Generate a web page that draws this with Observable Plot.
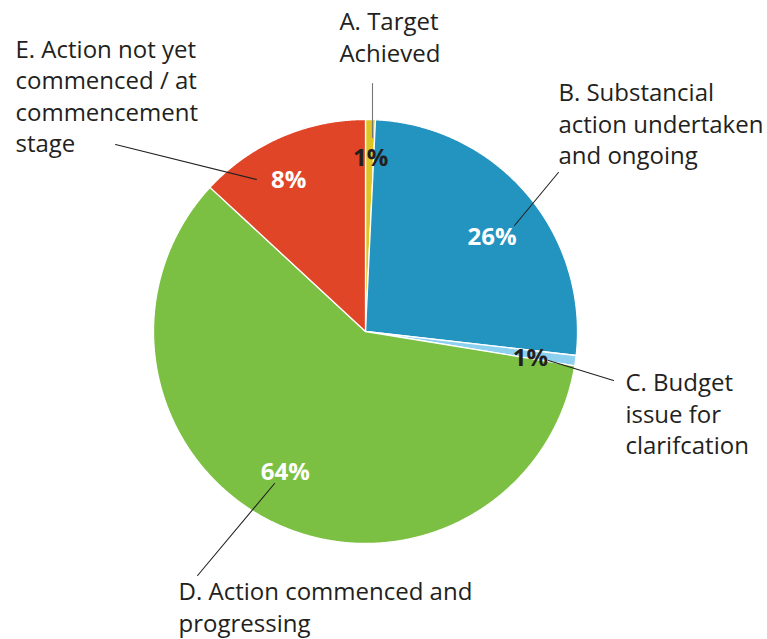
<!DOCTYPE html>
<html>
<head>
<meta charset="utf-8">
<script src="https://cdn.jsdelivr.net/npm/d3@7"></script>
<script src="https://cdn.jsdelivr.net/npm/@observablehq/plot@0.6"></script>
<style>
  html, body { margin: 0; padding: 0; background: #fff; }
  #chart svg { display: block; }
</style>
</head>
<body>
<div id="chart"></div>
<script>
// ---- Data ----
const categories = [
  "A. Target\nAchieved",
  "B. Substancial\naction undertaken\nand ongoing",
  "C. Budget\nissue for\nclarifcation",
  "D. Action commenced and\nprogressing",
  "E. Action not yet\ncommenced / at\ncommencement\nstage"
];
// slice sizes as drawn (share of the circle, %)
const values = [0.75, 26.05, 0.78, 59.3, 13.1];
// printed percentage labels
const pctLabels = ["1%", "26%", "1%", "64%", "8%"];
const colors = ["#dcc524", "#2393c0", "#8dd0f0", "#7bc043", "#e04528"];
const pctColors = ["#231f20", "#ffffff", "#231f20", "#ffffff", "#ffffff"];

// ---- Layout (chart units: pie radius = 1, centre = 0,0) ----
const W = 767, H = 639, R = 212, CX = 365, CY = 331;
const pctPos = [ // polar: angle (deg, clockwise from top), radius
  {a: 1.7, r: 0.816}, {a: 53.2, r: 0.745}, {a: 99.1, r: 0.788},
  {a: 209.6, r: 0.765}, {a: 333.1, r: 0.80}
];
const nameShift = 0.026;
const namePos = [ // top-left of first line
  {u: -0.123, v: 1.50}, {u: 0.910, v: 1.165}, {u: 1.226, v: -0.203},
  {u: -0.882, v: -1.189}, {u: -1.651, v: 1.370}
];
const leaders = [ // outer end, inner end
  {u1: 0.033, v1: 1.17, u2: 0.033, v2: 0.915, c: "#777"},
  {u1: 0.910, v1: 0.750, u2: 0.703, v2: 0.500, c: "#222"},
  {u1: 1.170, v1: -0.231, u2: 0.863, v2: -0.137, c: "#222"},
  {u1: -0.792, v1: -1.151, u2: -0.429, v2: -0.717, c: "#222"},
  {u1: -1.179, v1: 0.882, u2: -0.514, v2: 0.717, c: "#222"}
];

// ---- Build geometry ----
const arcs = d3.pie().sort(null).value(d => d)(values);
const slicePts = [];
arcs.forEach((a, i) => {
  slicePts.push({i, u: 0, v: 0});
  const n = Math.max(2, Math.ceil((a.endAngle - a.startAngle) / 0.005));
  for (let k = 0; k <= n; k++) {
    const t = a.startAngle + (a.endAngle - a.startAngle) * k / n;
    slicePts.push({i, u: Math.sin(t), v: Math.cos(t)});
  }
});
const pctData = pctLabels.map((t, i) => {
  const ang = pctPos[i].a * Math.PI / 180;
  return {t, c: pctColors[i], u: pctPos[i].r * Math.sin(ang), v: pctPos[i].r * Math.cos(ang)};
});
const nameData = categories.map((t, i) => ({t, u: namePos[i].u, v: namePos[i].v + nameShift}));
const leaderPts = leaders.flatMap((l, i) => [
  {i, u: l.u1, v: l.v1, c: l.c}, {i, u: l.u2, v: l.v2, c: l.c}
]);

const chart = Plot.plot({
  width: W, height: H,
  margin: 0,
  x: {domain: [-CX / R, (W - CX) / R], axis: null},
  y: {domain: [(CY - H) / R, CY / R], axis: null},
  style: {fontFamily: "'Open Sans', sans-serif", background: "#fff"},
  marks: [
    Plot.line(slicePts, {
      x: "u", y: "v", z: "i",
      fill: d => colors[d.i], stroke: "#fff", strokeWidth: 1.3,
      curve: "linear-closed", strokeLinejoin: "round"
    }),
    Plot.line(leaderPts, {x: "u", y: "v", z: "i", stroke: d => d.c, strokeWidth: 1.1}),
    Plot.text(pctData, {
      x: "u", y: "v", text: "t", fill: d => d.c,
      fontSize: 24, fontWeight: "bold"
    }),
    Plot.text(nameData, {
      x: "u", y: "v", text: "t", fill: "#231f20",
      fontSize: 24, textAnchor: "start", lineAnchor: "top", lineHeight: 1.31
    })
  ]
});
document.getElementById("chart").appendChild(chart);
</script>
</body>
</html>
